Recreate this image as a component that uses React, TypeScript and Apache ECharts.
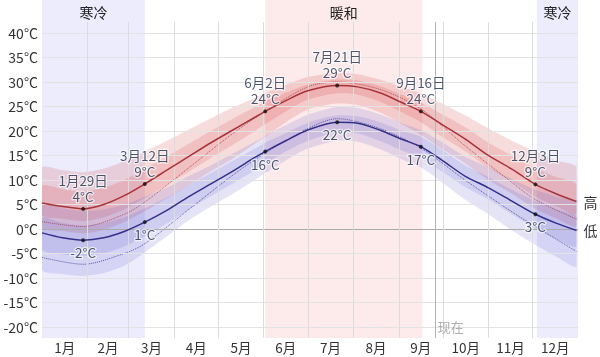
import React, { useEffect, useRef } from 'react';
import * as echarts from 'echarts';

// sample days (0 = Jan 1)
const days = [0, 14, 28, 42, 56, 70, 85, 100, 115, 130, 145, 152, 166, 181, 201, 215, 230, 245, 258, 273, 288, 304, 320, 336, 350, 364];
// average daily high / low (°C)
const highAvg = [5.3, 4.6, 4.1, 5.0, 6.8, 9.2, 12.0, 14.8, 17.6, 20.2, 22.8, 24.0, 26.2, 28.2, 29.3, 29.0, 27.8, 25.8, 24.0, 21.2, 18.4, 15.0, 12.2, 9.1, 7.2, 5.6];
const lowAvg = [-0.8, -1.8, -2.3, -1.8, -0.5, 1.4, 3.8, 6.6, 9.2, 11.8, 14.6, 15.8, 18.0, 20.2, 21.8, 21.6, 20.2, 18.3, 16.8, 13.9, 10.8, 8.4, 5.7, 3.0, 1.2, -0.3];
// percentile bands of the high
const high90 = [12.5, 12.0, 11.6, 12.3, 13.8, 15.8, 18.0, 20.3, 22.6, 24.8, 26.8, 27.8, 29.4, 31.0, 31.8, 31.6, 30.5, 29.0, 27.7, 25.5, 23.2, 20.5, 18.0, 15.8, 14.0, 12.6];
const high75 = [8.8, 8.1, 7.6, 8.4, 10.0, 12.3, 14.8, 17.4, 20.0, 22.5, 24.9, 26.0, 27.8, 29.5, 30.5, 30.3, 29.2, 27.4, 25.8, 23.3, 20.8, 17.6, 15.0, 12.4, 10.6, 9.1];
const high25 = [2.8, 2.1, 1.6, 2.4, 4.0, 6.3, 9.0, 11.7, 14.5, 17.2, 20.0, 21.4, 24.0, 26.4, 27.7, 27.4, 26.0, 23.8, 21.8, 18.7, 15.9, 12.5, 9.7, 6.6, 4.7, 3.1];
const high10 = [0.3, -0.4, -0.9, -0.2, 1.4, 3.6, 6.2, 9.0, 11.8, 14.4, 17.4, 18.8, 21.8, 24.4, 25.6, 25.3, 23.8, 21.4, 19.2, 16.2, 13.4, 10.0, 7.2, 4.1, 2.2, 0.6];
// percentile bands of the low
const low90 = [5.2, 4.2, 3.7, 4.0, 5.0, 6.6, 8.4, 10.8, 13.0, 15.4, 17.8, 19.0, 21.2, 23.3, 24.9, 24.7, 23.4, 21.6, 20.2, 17.6, 14.8, 12.6, 10.2, 8.0, 6.6, 5.4];
const low75 = [2.2, 1.2, 0.7, 1.2, 2.4, 4.2, 6.4, 9.0, 11.4, 13.9, 16.4, 17.6, 19.6, 21.7, 23.2, 23.0, 21.8, 20.1, 18.8, 16.0, 13.0, 10.6, 8.0, 5.7, 4.0, 2.6];
const low25 = [-4.2, -5.2, -5.5, -5.0, -3.6, -1.5, 1.1, 4.0, 6.7, 9.3, 12.0, 13.4, 15.8, 18.0, 19.7, 19.5, 18.0, 16.0, 14.5, 11.6, 8.6, 6.0, 3.0, 0.0, -2.0, -3.6];
const low10 = [-8.3, -9.2, -9.6, -9.0, -7.5, -4.8, -1.5, 1.8, 4.6, 7.2, 10.0, 11.4, 14.0, 16.4, 18.0, 17.8, 16.3, 14.2, 12.6, 9.4, 6.0, 3.0, -0.3, -3.2, -5.6, -7.6];
// perceived temperatures (dotted)
const feelDays = [0, 28, 56, 70, 100, 130, 152, 181, 201, 230, 258, 288, 320, 336, 364];
const feelHigh = [1.5, 0.5, 3.0, 5.5, 12.5, 19.5, 24.0, 29.0, 30.0, 28.5, 24.5, 17.0, 9.5, 6.0, 2.0];
const feelLow = [-5.8, -7.2, -5.0, -3.0, 4.0, 11.0, 15.5, 20.5, 22.5, 20.5, 16.5, 10.0, 3.5, 0.5, -4.6];

// annotated dates
const markerDays = [28, 70, 152, 201, 258, 336];
const markerDates = ['1月29日', '3月12日', '6月2日', '7月21日', '9月16日', '12月3日'];

// axes
const monthNames = ['1月', '2月', '3月', '4月', '5月', '6月', '7月', '8月', '9月', '10月', '11月', '12月'];
const monthMid = [15.5, 45, 74.5, 105, 135.5, 166, 196.5, 227.5, 258, 288.5, 319, 349.5];
const monthStarts = [31, 59, 90, 120, 151, 181, 212, 243, 273, 304, 334];
const yTicks = [-20, -15, -10, -5, 0, 5, 10, 15, 20, 25, 30, 35, 40];

// seasons
const coldSeasons = [[0, 70], [337, 365]];
const warmSeason = [152, 259];
const nowDay = 267.5;

const Y_MIN = -22.25;
const Y_MAX = 46.73;
const GRID_TOP_VAL = 42.24;

const FONT = "'Noto Sans CJK SC', 'Noto Sans', sans-serif";

function band(lower: number[], upper: number[], color: string, z: number) {
  return {
    type: 'custom', silent: true, z,
    data: [[0, 0]],
    renderItem: (_p: any, api: any) => {
      const top = days.map((d, i) => api.coord([d, upper[i]]));
      const bot = days.map((d, i) => api.coord([d, lower[i]])).reverse();
      const pts = top.concat(bot);
      return {
        type: 'polygon',
        shape: { points: pts, smooth: 0.25, smoothConstraint: [pts[0], pts[0]] },
        style: { fill: color },
      };
    },
  };
}

export default function App() {
  const ref = useRef<HTMLDivElement>(null);
  useEffect(() => {
    if (!ref.current) return;
    const chart = echarts.init(ref.current, null, { renderer: 'svg' });
    const labelStyle = {
      color: '#1f2c4a', fontSize: 13.5, lineHeight: 16,
      textBorderColor: 'rgba(255,255,255,0.8)', textBorderWidth: 2.5, fontFamily: FONT,
    };
    const option: any = {
      animation: false,
      textStyle: { fontFamily: FONT },
      grid: { left: 42, right: 22, top: 0, bottom: 19 },
      xAxis: {
        type: 'value', min: 0, max: 365,
        axisLine: { show: false }, axisTick: { show: false }, splitLine: { show: false },
        axisLabel: {
          customValues: monthMid, margin: 2, color: '#333', fontSize: 13.5, lineHeight: 14,
          formatter: (v: number) => monthNames[monthMid.indexOf(v)] ?? '',
        },
      },
      yAxis: {
        type: 'value', min: Y_MIN, max: Y_MAX,
        axisLine: { show: false }, axisTick: { show: false }, splitLine: { show: false },
        axisLabel: { customValues: yTicks, margin: 4, color: '#333', fontSize: 14, formatter: '{value}°C' },
      },
      series: [
        {
          type: 'line', name: 'bg', data: [], z: 1, silent: true,
          markArea: {
            silent: true,
            label: { show: true, position: 'insideTop', distance: 5, color: '#222', fontSize: 14, fontFamily: FONT },
            data: [
              ...coldSeasons.map((s) => [
                { xAxis: s[0], name: '寒冷', itemStyle: { color: '#ececfc' } },
                { xAxis: s[1] },
              ]),
              [
                { xAxis: warmSeason[0], name: '暖和', itemStyle: { color: '#fdeaea' } },
                { xAxis: warmSeason[1] },
              ],
            ],
          },
        },
        {
          type: 'line', name: 'grid', data: [], z: 2, silent: true,
          markLine: {
            silent: true, symbol: ['none', 'none'], label: { show: false },
            lineStyle: { type: 'solid', width: 1, color: '#dcdcdc' },
            data: [
              ...yTicks.map((v) => ({ yAxis: v, lineStyle: { color: v === 0 ? '#aaaaaa' : '#e3e3e3', type: 'solid', width: 1 } })),
              ...monthStarts.map((d) => [{ coord: [d, Y_MIN] }, { coord: [d, GRID_TOP_VAL] }]),
              [
                { coord: [nowDay, Y_MIN], lineStyle: { color: '#b4b4b4', type: 'solid', width: 1 } },
                { coord: [nowDay, GRID_TOP_VAL] },
              ],
            ],
          },
        },
        band(high10, high90, 'rgba(212,60,60,0.18)', 3),
        band(high25, high75, 'rgba(212,60,60,0.18)', 3),
        band(low10, low90, 'rgba(95,85,205,0.16)', 3),
        band(low25, low75, 'rgba(95,85,205,0.16)', 3),
        {
          type: 'line', name: 'feelHigh', smooth: 0.3, symbol: 'none', silent: true, z: 4,
          data: feelDays.map((d, i) => [d, feelHigh[i]]),
          lineStyle: { color: 'rgba(160,45,55,0.75)', width: 1, type: 'dotted' },
        },
        {
          type: 'line', name: 'feelLow', smooth: 0.3, symbol: 'none', silent: true, z: 4,
          data: feelDays.map((d, i) => [d, feelLow[i]]),
          lineStyle: { color: 'rgba(50,45,140,0.75)', width: 1, type: 'dotted' },
        },
        {
          type: 'line', name: '高', smooth: 0.3, symbol: 'none', silent: true, z: 5,
          data: days.map((d, i) => [d, highAvg[i]]),
          lineStyle: { color: '#a8343b', width: 1.5 },
          endLabel: { show: true, formatter: '高', color: '#333', fontSize: 14, distance: 7, fontFamily: FONT },
        },
        {
          type: 'line', name: '低', smooth: 0.3, symbol: 'none', silent: true, z: 5,
          data: days.map((d, i) => [d, lowAvg[i]]),
          lineStyle: { color: '#33308c', width: 1.5 },
          endLabel: { show: true, formatter: '低', color: '#333', fontSize: 14, distance: 7, fontFamily: FONT },
        },
        {
          type: 'scatter', name: 'highMarks', z: 6, symbolSize: 4, silent: true,
          itemStyle: { color: '#111' },
          label: { show: true, position: 'top', distance: 3, ...labelStyle },
          data: markerDays.map((d, i) => {
            const v = highAvg[days.indexOf(d)];
            return { value: [d, v], label: { formatter: `${markerDates[i]}\n${Math.round(v)}°C` } };
          }),
        },
        {
          type: 'scatter', name: 'lowMarks', z: 6, symbolSize: 4, silent: true,
          itemStyle: { color: '#111' },
          label: { show: true, position: 'bottom', distance: 2, ...labelStyle },
          data: markerDays.map((d) => {
            const v = lowAvg[days.indexOf(d)];
            return { value: [d, v], label: { formatter: `${Math.round(v)}°C` } };
          }),
        },
        {
          type: 'scatter', name: 'now', z: 6, symbolSize: 0, silent: true,
          data: [[nowDay, -20]],
          label: { show: true, position: 'right', distance: 3, formatter: '现在', color: '#999', fontSize: 13, fontFamily: FONT },
        },
      ],
    };
    chart.setOption(option);
    return () => chart.dispose();
  }, []);
  return <div ref={ref} style={{ position: 'fixed', left: 0, top: 0, width: 600, height: 357 }} />;
}
